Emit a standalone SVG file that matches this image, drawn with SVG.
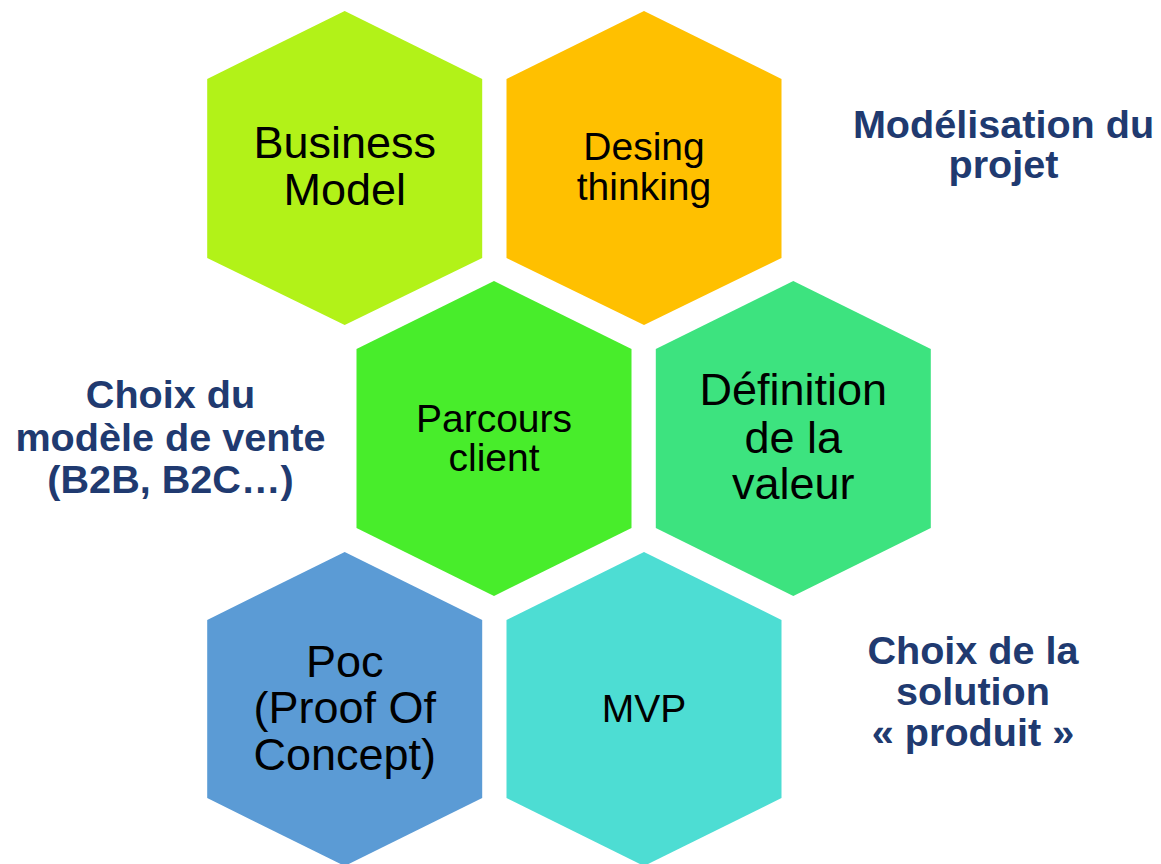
<svg xmlns="http://www.w3.org/2000/svg" width="1161" height="864" viewBox="0 0 1161 864">
<style>
.hx text{font-family:"Liberation Sans",Arial,sans-serif;fill:#000;text-anchor:middle}
.lbl{font-family:"Liberation Sans",Arial,sans-serif;font-weight:bold;fill:#203A70;text-anchor:middle;font-size:39.6px}
</style>
<rect width="1161" height="864" fill="#fff"/>
<g id="business-model" class="hx">
<polygon points="344.7,11 482.2,79 482.2,258 344.7,325 207.2,258 207.2,79" fill="#B2F218"/>
<text font-size="45" x="344.7" y="158">Business</text>
<text font-size="45" x="344.7" y="205">Model</text>
</g>
<g id="desing-thinking" class="hx">
<polygon points="644,11 781.5,79 781.5,258 644,325 506.5,258 506.5,79" fill="#FFC000"/>
<text font-size="39" x="644" y="160">Desing</text>
<text font-size="39" x="644" y="200">thinking</text>
</g>
<g id="parcours-client" class="hx">
<polygon points="494,281 631.5,349 631.5,528 494,596 356.5,528 356.5,349" fill="#48ED2B"/>
<text font-size="39" x="494" y="431.5">Parcours</text>
<text font-size="39" x="494" y="471">client</text>
</g>
<g id="definition-valeur" class="hx">
<polygon points="793.3,281 930.8,349 930.8,528 793.3,596 655.8,528 655.8,349" fill="#3DE37F"/>
<text font-size="45" x="793.3" y="405">Définition</text>
<text font-size="45" x="793.3" y="452.5">de la</text>
<text font-size="45" x="793.3" y="499">valeur</text>
</g>
<g id="poc" class="hx">
<polygon points="344.7,552 482.2,620 482.2,798 344.7,866 207.2,798 207.2,620" fill="#5B9BD5"/>
<text font-size="45" x="344.7" y="676.5">Poc</text>
<text font-size="45" x="344.7" y="723">(Proof Of</text>
<text font-size="45" x="344.7" y="770">Concept)</text>
</g>
<g id="mvp" class="hx">
<polygon points="644,552 781.5,620 781.5,798 644,866 506.5,798 506.5,620" fill="#4DDDD3"/>
<text font-size="39" x="644" y="721.5">MVP</text>
</g>
<g id="labels">
<text class="lbl" x="1003.5" y="137.5">Modélisation du</text>
<text class="lbl" x="1003.5" y="178">projet</text>
<text class="lbl" x="170.5" y="407.5">Choix du</text>
<text class="lbl" x="170.5" y="451">modèle de vente</text>
<text class="lbl" x="170.5" y="492.5">(B2B, B2C…)</text>
<text class="lbl" x="973" y="663.5">Choix de la</text>
<text class="lbl" x="973" y="705">solution</text>
<text class="lbl" x="973" y="745.5">« produit »</text>
</g>
<g id="connectors"/>
</svg>
